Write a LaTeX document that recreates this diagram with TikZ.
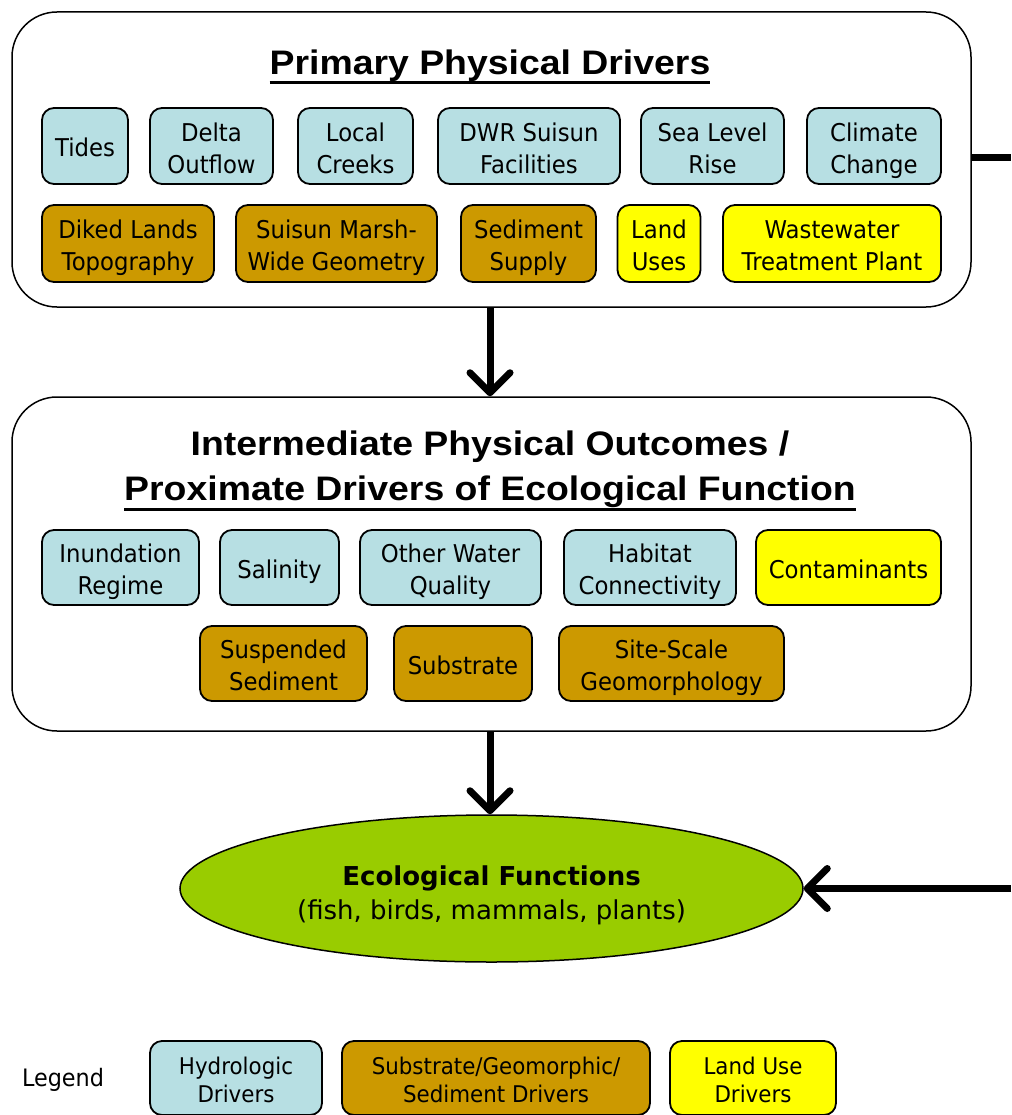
\documentclass[tikz,border=0pt]{standalone}
\usepackage{fontspec}
\setmainfont{DejaVu Sans}[FakeStretch=0.93]
\newfontfamily\titlefont{Liberation Sans}[FakeStretch=1.1]
\newfontfamily\widefont{DejaVu Sans}
\usetikzlibrary{arrows.meta, shapes.geometric}
\definecolor{hydroblue}{HTML}{B7DFE3}
\definecolor{sedbrown}{HTML}{CC9900}
\definecolor{landyellow}{HTML}{FFFF00}
\definecolor{ecogreen}{HTML}{99CC00}
% thick underline for the panel titles
\newcommand{\titleul}[1]{\setbox0\hbox{#1}\rlap{\rule[-10pt]{\wd0}{3pt}}\box0}

\begin{document}
\begin{tikzpicture}[x=1pt, y=-1pt,
    driver/.style={draw, line width=1.8pt, rounded corners=12pt, align=center,
        inner sep=0pt, font=\fontsize{24.5}{32}\selectfont},
    one/.style={execute at begin node={\rule[-5pt]{0pt}{32pt}}},
    two/.style={execute at begin node={\rule[-9pt]{0pt}{72.6pt}}},
    legtwo/.style={execute at begin node={\rule[-9pt]{0pt}{66.5pt}}},
    hydro/.style={driver, fill=hydroblue},
    sed/.style={driver, fill=sedbrown},
    land/.style={driver, fill=landyellow},
    legbox/.style={font=\fontsize{23}{28}\selectfont, legtwo},
    panel/.style={draw, line width=1.5pt, rounded corners=45pt, inner sep=0pt},
    title/.style={font=\fontsize{34}{45}\selectfont\titlefont\bfseries, align=center, inner sep=0pt},
    flow/.style={line width=7pt, -{Straight Barb[length=20pt, width=40pt, line cap=round, line join=round]}}]
    \useasboundingbox (0,0) rectangle (1011,1115);

    % Primary physical drivers
    \node[panel, minimum width=959pt, minimum height=295pt] (primary) at (491.5,159.5) {};
    \node[title] (primtitle) at (490,67) {\titleul{Primary Physical Drivers}};

    \node[hydro, one, minimum width=86pt, minimum height=76pt] (tides) at (85,146) {Tides};
    \node[hydro, two, minimum width=123pt, minimum height=76pt] (delta) at (211.5,146) {Delta\\Outflow};
    \node[hydro, two, minimum width=115pt, minimum height=76pt] (creeks) at (355.5,146) {Local\\Creeks};
    \node[hydro, two, minimum width=182pt, minimum height=76pt] (dwr) at (529,146) {DWR Suisun\\Facilities};
    \node[hydro, two, minimum width=143pt, minimum height=76pt] (slr) at (712.5,146) {Sea Level\\Rise};
    \node[hydro, two, minimum width=134pt, minimum height=76pt] (climate) at (874,146) {Climate\\Change};

    \node[sed, two, minimum width=172pt, minimum height=77pt] (diked) at (128,243.5) {Diked Lands\\Topography};
    \node[sed, two, minimum width=201pt, minimum height=77pt] (geometry) at (336.5,243.5) {Suisun Marsh-\\Wide Geometry};
    \node[sed, two, minimum width=135pt, minimum height=77pt] (sedsupply) at (528.5,243.5) {Sediment\\Supply};
    \node[land, two, minimum width=83pt, minimum height=77pt] (landuses) at (659,243.5) {Land\\Uses};
    \node[land, two, minimum width=218pt, minimum height=77pt] (wwtp) at (832,243.5) {Wastewater\\Treatment Plant};

    % Intermediate outcomes
    \node[panel, minimum width=959pt, minimum height=334pt] (intermed) at (491.5,564) {};
    \node[title] (midtitle) at (490,471) {Intermediate Physical Outcomes /\\\titleul{Proximate Drivers of Ecological Function}};

    \node[hydro, two, minimum width=157pt, minimum height=75pt] (inundation) at (120.5,567.5) {Inundation\\Regime};
    \node[hydro, one, minimum width=119pt, minimum height=75pt] (salinity) at (279.5,567.5) {Salinity};
    \node[hydro, two, minimum width=181pt, minimum height=75pt] (otherwq) at (450.5,567.5) {Other Water\\Quality};
    \node[hydro, two, minimum width=172pt, minimum height=75pt] (connect) at (650,567.5) {Habitat\\Connectivity};
    \node[land, one, minimum width=185pt, minimum height=75pt] (contam) at (848.5,567.5) {Contaminants};

    \node[sed, two, minimum width=167pt, minimum height=75pt] (suspsed) at (283.5,663.5) {Suspended\\Sediment};
    \node[sed, one, minimum width=138pt, minimum height=75pt] (substrate) at (463,663.5) {Substrate};
    \node[sed, two, minimum width=225pt, minimum height=75pt] (geomorph) at (671.5,663.5) {Site-Scale\\Geomorphology};

    % Ecological functions
    \node[ellipse, draw, line width=1.5pt, fill=ecogreen, minimum width=623pt, minimum height=147pt,
        inner sep=0pt] (eco) at (491.5,888.5) {};
    \node[align=center, font=\fontsize{26}{34}\selectfont\widefont] (ecolabel) at (491.5,895)
        {\textbf{Ecological Functions}\\(fish, birds, mammals, plants)};

    % Arrows
    \draw[flow] (primary.south -| primtitle) -- (intermed.north -| primtitle);
    \draw[flow] (intermed.south -| primtitle) -- (eco.north -| primtitle);
    \coordinate (righttop) at (1011,158);
    \coordinate (rightbot) at (1011,888.5);
    \draw[line width=7pt] (primary.east |- righttop) -- (righttop);
    \draw[flow] (rightbot) -- (eco.east |- rightbot);

    % Legend
    \node[font=\fontsize{24}{28}\selectfont] (legend) at (63,1080) {Legend};
    \node[hydro, legbox, minimum width=172pt, minimum height=74pt] (leghydro) at (236,1078) {Hydrologic\\Drivers};
    \node[sed, legbox, minimum width=308pt, minimum height=74pt] (legsed) at (496,1078) {Substrate/Geomorphic/\\Sediment Drivers};
    \node[land, legbox, minimum width=166pt, minimum height=74pt] (legland) at (753,1078) {Land Use\\Drivers};
\end{tikzpicture}
\end{document}
